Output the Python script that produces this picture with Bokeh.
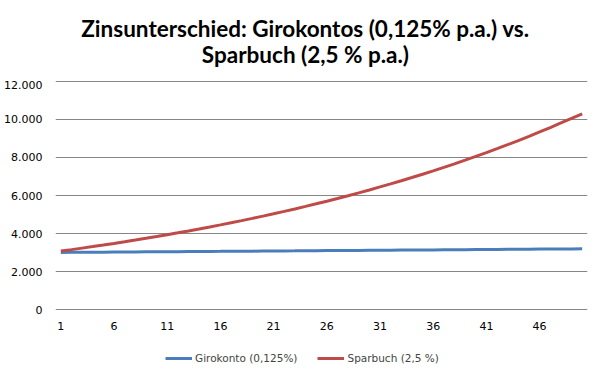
from bokeh.plotting import figure
from bokeh.layouts import column
from bokeh.models import Range1d, FixedTicker, Label, Legend, LegendItem, ColumnDataSource
from bokeh.embed import file_html
from bokeh.resources import INLINE

# ---- data ----
jahre = list(range(1, 51))
girokonto = [3004, 3008, 3011, 3015, 3019, 3023, 3026, 3030, 3034, 3038,
             3041, 3045, 3049, 3053, 3057, 3060, 3064, 3068, 3072, 3076,
             3080, 3084, 3087, 3091, 3095, 3099, 3103, 3107, 3111, 3115,
             3119, 3123, 3126, 3130, 3134, 3138, 3142, 3146, 3150, 3154,
             3158, 3162, 3166, 3170, 3174, 3178, 3182, 3186, 3190, 3194]
sparbuch = [3075, 3152, 3231, 3311, 3394, 3479, 3566, 3655, 3747, 3840,
            3936, 4035, 4136, 4239, 4345, 4454, 4565, 4679, 4796, 4916,
            5039, 5165, 5294, 5426, 5562, 5701, 5844, 5990, 6140, 6293,
            6451, 6612, 6777, 6947, 7120, 7298, 7481, 7668, 7860, 8056,
            8258, 8464, 8676, 8893, 9115, 9343, 9576, 9816, 10061, 10300]
y_ticks = [0, 2000, 4000, 6000, 8000, 10000, 12000]
y_tick_labels = ["0", "2.000", "4.000", "6.000", "8.000", "10.000", "12.000"]
x_ticks = [1, 6, 11, 16, 21, 26, 31, 36, 41, 46]
title_lines = ["Zinsunterschied: Girokontos (0,125% p.a.) vs.", "Sparbuch (2,5 % p.a.)"]
series_names = ["Girokonto (0,125%)", "Sparbuch (2,5 %)"]
series_colors = ["#4A7EBB", "#BE4B48"]

W = 596
TH = 80
src = ColumnDataSource(dict(x=jahre, giro=girokonto, spar=sparbuch))

# ---- title strip ----
tf = figure(width=W, height=TH, output_backend="svg", toolbar_location=None,
            x_range=Range1d(0, W), y_range=Range1d(0, TH),
            x_axis_location=None, y_axis_location=None,
            min_border_left=0, min_border_right=0, min_border_top=0, min_border_bottom=0)
tf.grid.grid_line_color = None
tf.outline_line_color = None
for txt, yy in zip(title_lines, [TH - 28, TH - 54]):
    tf.add_layout(Label(x=W / 2 - 18, y=yy, text=txt, text_align="center", text_baseline="middle",
                        text_font="Lato", text_font_style="bold", text_font_size="22.5px",
                        text_color="#000000"))

# ---- main chart ----
p = figure(frame_width=532, frame_height=230, output_backend="svg", toolbar_location=None,
           x_range=Range1d(0.5, 50.5), y_range=Range1d(-52, 12052),
           min_border_left=55, min_border_right=W - 55 - 532, min_border_top=0, min_border_bottom=25)
p.title = None
p.outline_line_color = None

r1 = p.line("x", "giro", source=src, line_color=series_colors[0], line_width=3)
r2 = p.line("x", "spar", source=src, line_color=series_colors[1], line_width=3)

p.xgrid.grid_line_color = None
p.ygrid.grid_line_color = "#868686"
p.ygrid.grid_line_width = 1
p.yaxis.ticker = FixedTicker(ticks=y_ticks)
p.ygrid.ticker = FixedTicker(ticks=y_ticks)
p.yaxis.major_label_overrides = {t: l for t, l in zip(y_ticks, y_tick_labels)}
p.xaxis.ticker = FixedTicker(ticks=x_ticks)

for ax in (p.xaxis, p.yaxis):
    ax.axis_line_color = None
    ax.major_tick_line_color = None
    ax.minor_tick_line_color = None
    ax.major_label_text_font = "DejaVu Sans"
    ax.major_label_text_font_size = "11px"
    ax.major_label_text_color = "#000000"
p.yaxis.major_label_standoff = 7
p.xaxis.major_label_standoff = 5

# ---- legend strip below the chart (series drawn outside its view, only the legend shows) ----
lg = figure(width=W, height=30, output_backend="svg", toolbar_location=None,
            x_range=Range1d(-2, -1), y_range=Range1d(0, 1),
            x_axis_location=None, y_axis_location=None,
            min_border_left=0, min_border_right=0, min_border_top=0, min_border_bottom=0)
lg.grid.grid_line_color = None
lg.outline_line_color = None
d1 = lg.line("x", "giro", source=src, line_color=series_colors[0], line_width=3)
d2 = lg.line("x", "spar", source=src, line_color=series_colors[1], line_width=3)
legend = Legend(items=[LegendItem(label=series_names[0], renderers=[d1]),
                       LegendItem(label=series_names[1], renderers=[d2])],
                orientation="horizontal", location=(110, 1),
                label_text_font="DejaVu Sans", label_text_font_size="10.5px",
                glyph_width=27, glyph_height=10, label_standoff=3, spacing=20,
                border_line_color=None, background_fill_alpha=0, margin=0, padding=4)
lg.add_layout(legend, "center")

layout = column(tf, p, lg, spacing=0)
open("out.html", "w").write(file_html(layout, INLINE))
